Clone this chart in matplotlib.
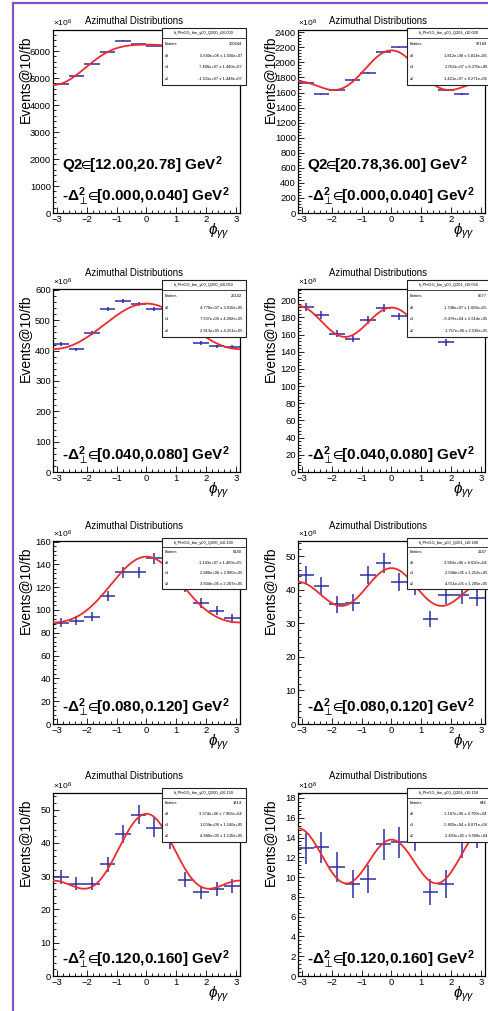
import numpy as np
import matplotlib
matplotlib.use('Agg')
import matplotlib.pyplot as plt
from matplotlib.ticker import MultipleLocator, AutoMinorLocator
from matplotlib.lines import Line2D
from matplotlib.patches import Rectangle

plt.rcParams['font.family'] = ['Liberation Sans', 'DejaVu Sans']
plt.rcParams['mathtext.fontset'] = 'custom'
plt.rcParams['mathtext.rm'] = 'Liberation Sans'
plt.rcParams['mathtext.it'] = 'Liberation Sans:italic'
plt.rcParams['mathtext.bf'] = 'Liberation Sans:bold'
plt.rcParams['mathtext.fallback'] = 'stixsans'

W, H = 489, 1011

# phi_gg bin centres (12 bins over -pi..pi) and half bin width
phi_bins = [-2.880, -2.356, -1.833, -1.309, -0.785, -0.262,
            0.262, 0.785, 1.309, 1.833, 2.356, 2.880]
half_bin = 0.262

q2_bins = ['[12.00,20.78]', '[20.78,36.00]']
t_bins = ['[0.000,0.040]', '[0.040,0.080]', '[0.080,0.120]', '[0.120,0.160]']

# events @ 10/fb in units of 10^6, rows = -t bin, cols = Q2 bin
ev_t0_q0 = [4770, 5085, 5530, 5975, 6380, 6250, 6200, 6100, 5900, 5500, 4895, 4766]
ev_t0_q1 = [1731, 1576, 1634, 1766, 1863, 2141, 2199, 1990, 1760, 1634, 1580, 1720]
ev_t1_q0 = [422, 404, 458, 536, 563, 554, 536, 520, 480, 425, 414, 411]
ev_t1_q1 = [192, 183, 161, 155, 177, 191, 181, 172, 160, 151, 178, 190]
ev_t2_q0 = [88.7, 90.7, 93.9, 111.9, 133.1, 133.1, 145.3, 135.0, 120.0, 106.0, 99.4, 92.7]
ev_t2_q1 = [44.4, 41.0, 35.6, 36.1, 44.4, 48.0, 42.2, 41.0, 31.3, 38.3, 38.3, 37.6]
ev_t3_q0 = [29.8, 27.8, 27.8, 33.6, 42.7, 48.5, 44.6, 40.7, 29.0, 25.1, 26.1, 27.1]
ev_t3_q1 = [12.9, 13.0, 11.0, 9.3, 9.8, 13.3, 13.5, 14.2, 8.5, 9.3, 13.5, 14.5]

err_t0_q0 = [15, 15, 16, 16, 17, 17, 17, 17, 16, 16, 15, 15]
err_t0_q1 = [9, 9, 9, 9, 10, 10, 10, 10, 9, 9, 9, 9]
err_t1_q0 = [6, 6, 6, 7, 7, 7, 7, 7, 6, 6, 6, 6]
err_t1_q1 = [4.6, 4.5, 4.3, 4.2, 4.4, 4.6, 4.5, 4.4, 4.2, 4.1, 4.4, 4.6]
err_t2_q0 = [3.9, 3.9, 4.0, 4.4, 4.8, 4.8, 5.0, 4.8, 4.5, 4.2, 4.1, 4.0]
err_t2_q1 = [2.8, 2.7, 2.5, 2.5, 2.8, 2.9, 2.7, 2.7, 2.4, 2.6, 2.6, 2.6]
err_t3_q0 = [2.2, 2.1, 2.1, 2.3, 2.7, 2.9, 2.8, 2.6, 2.2, 2.0, 2.1, 2.1]
err_t3_q1 = [1.6, 1.6, 1.5, 1.4, 1.4, 1.6, 1.6, 1.6, 1.3, 1.4, 1.6, 1.6]

# fit results: c0 + c1 cos(phi) + c2 cos(2 phi)
hist_names = ['h_PhiGG_bin_y00_Q200_t10.000', 'h_PhiGG_bin_y00_Q201_t10.000',
              'h_PhiGG_bin_y00_Q200_t10.050', 'h_PhiGG_bin_y00_Q201_t10.050',
              'h_PhiGG_bin_y00_Q200_t10.100', 'h_PhiGG_bin_y00_Q201_t10.100',
              'h_PhiGG_bin_y00_Q200_t10.150', 'h_PhiGG_bin_y00_Q201_t10.150']
entries = [300444, 97169, 26142, 8577, 6140, 2147, 1814, 648]
c0 = [5.64e8, 1.812e8, 4.77e7, 1.748e7, 1.143e7, 3.983e6, 3.374e6, 1.187e6]
c0_err = [1.03e7, 5.814e6, 3.01e5, 1.606e5, 1.480e5, 8.620e4, 7.903e4, 4.700e4]
c1 = [7.486e7, 2.052e7, 7.507e6, -9.476e4, 2.886e6, 2.048e5, 1.004e6, -5.803e4]
c1_err = [1.440e7, 8.370e6, 4.268e5, 2.614e5, 2.080e5, 1.252e5, 1.160e5, 6.871e4]
c2 = [-1.511e7, 1.421e7, 2.913e5, 1.757e6, 3.604e5, 4.551e5, 4.98e5, 2.493e5]
c2_err = [1.448e7, 8.271e6, 4.251e5, 2.538e5, 2.207e5, 1.205e5, 1.13e5, 6.508e4]
lumi_scale = 10.0

y_max = [6780, 2430, 603, 213, 160.5, 54.5, 55, 18.5]
y_step = [1000, 200, 100, 20, 20, 10, 10, 2]

events = [ev_t0_q0, ev_t0_q1, ev_t1_q0, ev_t1_q1, ev_t2_q0, ev_t2_q1, ev_t3_q0, ev_t3_q1]
errors = [err_t0_q0, err_t0_q1, err_t1_q0, err_t1_q1, err_t2_q0, err_t2_q1, err_t3_q0, err_t3_q1]

blue = '#2c2ca6'
red = '#ee2b2b'

# frame geometry in pixels
col_x = [53, 298]
frame_w = 187
row_top = [30, 289, 541, 793]
frame_h = 183
title_y = [21, 273, 526, 776]
title_x = [134, 378]
box_x = [162, 407]
box_w = 84
box_rows = [(28, 85), (280, 337), (538, 589), (788, 842)]

fig = plt.figure(figsize=(W / 100, H / 100), dpi=100)
fig.patch.set_facecolor('white')


def fx(x):
    return x / W


def fy(y):
    return 1 - y / H


def sci(v):
    s = '%.3e' % v
    m, e = s.split('e')
    return '%se%+03d' % (m, int(e))


phi_fine = np.linspace(-np.pi, np.pi, 300)
in_sym = r'$\!\!\in\!\!$'

for i in range(8):
    r, c = divmod(i, 2)
    ax = fig.add_axes([fx(col_x[c]), fy(row_top[r] + frame_h), frame_w / W, frame_h / H])
    ax.errorbar(phi_bins, events[i], xerr=half_bin, yerr=errors[i], fmt='none',
                ecolor=blue, elinewidth=1.1, capsize=0, zorder=2)
    fit = lumi_scale * (c0[i] + c1[i] * np.cos(phi_fine) + c2[i] * np.cos(2 * phi_fine)) / 1e6
    ax.plot(phi_fine, fit, color=red, lw=1.3, zorder=3)
    ax.set_xlim(-np.pi, np.pi)
    ax.set_ylim(0, y_max[i])
    ax.xaxis.set_major_locator(MultipleLocator(1))
    ax.xaxis.set_minor_locator(MultipleLocator(0.2))
    ax.yaxis.set_major_locator(MultipleLocator(y_step[i]))
    ax.yaxis.set_minor_locator(AutoMinorLocator(5))
    ax.tick_params(which='both', direction='in', top=False, right=False,
                   labelsize=6.8, pad=1.5, width=0.6)
    ax.tick_params(which='major', length=4)
    ax.tick_params(which='minor', length=2)
    for sp in ax.spines.values():
        sp.set_linewidth(0.9)
    ax.set_ylabel('Events@10/fb', fontsize=10, loc='top')
    ax.yaxis.set_label_coords(-0.115, 0.97)
    ax.text(0.885, -0.05, r'$\phi_{\gamma\gamma}$', transform=ax.transAxes,
            fontsize=11, ha='center', va='top')
    ax.text(0.0, 1.005, r'$\times$10$^{6}$', transform=ax.transAxes,
            fontsize=6, ha='left', va='bottom')

    t_txt = r'-$\mathbf{\Delta}_{\perp}^{\mathbf{2}}$' + in_sym + t_bins[r] + r' GeV$^{\mathbf{2}}$'
    ax.text(0.05, 0.09, t_txt, transform=ax.transAxes, fontsize=11,
            fontweight='bold', ha='left', va='center')
    if r == 0:
        q_txt = 'Q2' + in_sym + q2_bins[c] + r' GeV$^{\mathbf{2}}$'
        ax.text(0.05, 0.26, q_txt, transform=ax.transAxes, fontsize=11,
                fontweight='bold', ha='left', va='center')

    fig.text(fx(title_x[c]), fy(title_y[r]), 'Azimuthal Distributions',
             fontsize=6.9, ha='center', va='center')

    # stat box
    b_top, b_bot = box_rows[r]
    bx = box_x[c]
    bh = b_bot - b_top
    fig.add_artist(Rectangle((fx(bx), fy(b_bot)), box_w / W, bh / H,
                             transform=fig.transFigure, facecolor='white',
                             edgecolor='#222222', lw=0.8, zorder=5))
    head = b_top + bh * 0.18
    fig.add_artist(Line2D([fx(bx), fx(bx + box_w)], [fy(head), fy(head)],
                          transform=fig.transFigure, color='#222222', lw=0.6, zorder=6))
    fig.text(fx(bx + box_w / 2), fy(b_top + bh * 0.09), hist_names[i],
             fontsize=2.9, ha='center', va='center', zorder=7)
    rows = [('Entries', str(entries[i])),
            ('c0', sci(c0[i]) + ' \u00b1 ' + sci(c0_err[i])),
            ('c1', sci(c1[i]) + ' \u00b1 ' + sci(c1_err[i])),
            ('c2', sci(c2[i]) + ' \u00b1 ' + sci(c2_err[i]))]
    for k, (name, val) in enumerate(rows):
        yy = head + (bh - (head - b_top)) * (k + 0.5) / 4
        fig.text(fx(bx + 3), fy(yy), name, fontsize=2.9, ha='left', va='center', zorder=7)
        fig.text(fx(bx + box_w - 4), fy(yy), val, fontsize=2.9, ha='right',
                 va='center', zorder=7)

# outer frame
purple = '#8455c8'
fig.add_artist(Line2D([fx(13), fx(13)], [fy(3), fy(H + 5)], transform=fig.transFigure,
                      color=purple, lw=1.6))
fig.add_artist(Line2D([fx(13), fx(W + 5)], [fy(3), fy(3)], transform=fig.transFigure,
                      color=purple, lw=1.6))

fig.savefig('out.png', dpi=100)
